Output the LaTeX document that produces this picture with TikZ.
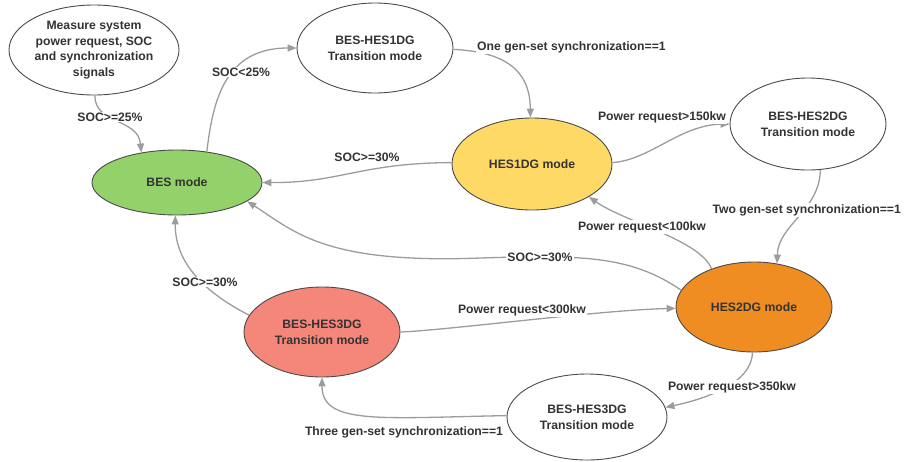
\documentclass[tikz,border=0pt]{standalone}
\usepackage{fontspec}
\setmainfont{Liberation Sans}
\usetikzlibrary{shapes.geometric,arrows.meta}

\definecolor{edgegray}{HTML}{9C9C9C}
\definecolor{rimgray}{HTML}{4A4A4A}
\definecolor{inkgray}{HTML}{333333}
\definecolor{besgreen}{HTML}{93D16A}
\definecolor{hesyellow}{HTML}{FFD966}
\definecolor{hesorange}{HTML}{EF8D22}
\definecolor{hessalmon}{HTML}{F4867A}

\newcommand{\diagfont}{\fontsize{12.2}{15.8}\selectfont\bfseries}

\begin{document}
\begin{tikzpicture}[x=1pt,y=-1pt,
  state/.style={ellipse,draw=rimgray,line width=0.9pt,inner sep=0pt,
    align=center,text=inkgray,font=\diagfont,fill=white},
  link/.style={draw=edgegray,line width=1.3pt,
    -{Triangle[length=9pt,width=7pt]}},
  cond/.style={fill=white,inner sep=1pt,text=inkgray,font=\diagfont}]

\useasboundingbox (0,0) rectangle (904,461);

% states
\node[state,minimum width=170pt,minimum height=90pt] (meas) at (94,50)
  {Measure system\\power request, SOC\\and synchronization\\signals};
\node[state,fill=besgreen,minimum width=170pt,minimum height=65pt] (bes) at (177,182.5)
  {BES mode};
\node[state,minimum width=156pt,minimum height=90pt] (tone) at (375,48)
  {BES-HES1DG\\Transition mode};
\node[state,fill=hesyellow,minimum width=160pt,minimum height=92pt] (hone) at (532,164)
  {HES1DG mode};
\node[state,minimum width=156pt,minimum height=92pt] (ttwo) at (808,124)
  {BES-HES2DG\\Transition mode};
\node[state,fill=hesorange,minimum width=156pt,minimum height=90pt] (htwo) at (754,307)
  {HES2DG mode};
\node[state,fill=hessalmon,minimum width=156pt,minimum height=90pt] (tthr) at (322,332)
  {BES-HES3DG\\Transition mode};
\node[state,minimum width=160pt,minimum height=86pt] (tbot) at (587,417)
  {BES-HES3DG\\Transition mode};

% transitions
\draw[link] (meas.-89) .. controls (95,125) and (138,118) .. (bes.140);
\draw[link] (bes.46) .. controls (213,100) and (225,48) .. (tone.180);
\draw[link] (tone.-1) .. controls (505,52) and (530,70) .. (hone.92);
\draw[link] (hone.179) .. controls (360,163) and (340,183) .. (bes.0);
\draw[link] (hone.1) .. controls (650,160) and (680,125) .. (ttwo.-180);
\draw[link] (ttwo.-75) .. controls (820,210) and (778,225) .. (htwo.62);
\draw[link] (htwo.138) .. controls (700,240) and (625,222) .. (hone.-30);
\draw[link] (htwo.167) .. controls (630,255) and (580,255) .. (480,258)
  .. controls (325,264) and (295,232) .. (bes.-15);
\draw[link] (tthr.167) .. controls (200,290) and (175,260) .. (bes.-93);
\draw[link] (tthr.0) .. controls (450,330) and (600,310) .. (htwo.181);
\draw[link] (htwo.-92) .. controls (752,385) and (700,400) .. (tbot.7);
\draw[link] (tbot.179) .. controls (380,418) and (322,425) .. (tthr.-90);

% conditions
\node[cond] (c1) at (110,117) {SOC>=25\%};
\node[cond] (c2) at (241,72) {SOC<25\%};
\node[cond,anchor=west] (c3) at (476,47) {One gen-set synchronization==1};
\node[cond] (c4) at (367,157) {SOC>=30\%};
\node[cond] (c5) at (662,117) {Power request>150kw};
\node[cond,anchor=east] (c6) at (902,210) {Two gen-set synchronization==1};
\node[cond] (c7) at (642,227) {Power request<100kw};
\node[cond] (c8) at (540,257) {SOC>=30\%};
\node[cond] (c9) at (205,282) {SOC>=30\%};
\node[cond] (c10) at (522,310) {Power request<300kw};
\node[cond] (c11) at (732,387) {Power request>350kw};
\node[cond] (c12) at (404,432) {Three gen-set synchronization==1};

\end{tikzpicture}
\end{document}
